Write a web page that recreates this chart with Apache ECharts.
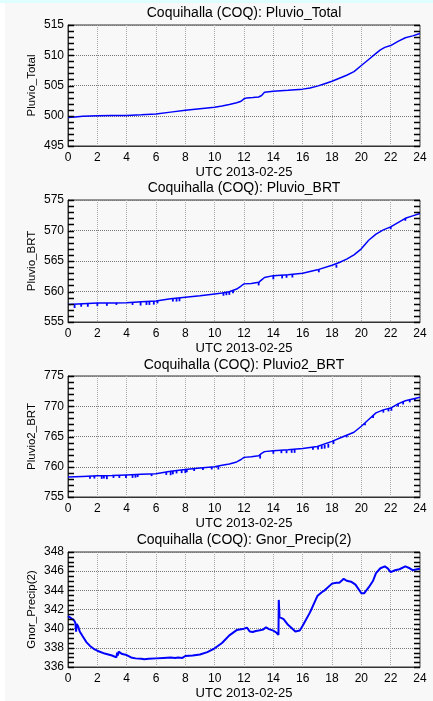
<!DOCTYPE html>
<html>
<head>
<meta charset="utf-8">
<script src="https://cdn.jsdelivr.net/npm/echarts@6/dist/echarts.min.js"></script>
<style>
html,body{margin:0;padding:0;background:#f8f8f8;}
#chart{width:433px;height:701px;}
</style>
</head>
<body>
<div id="chart"></div>
<script>
// ---- data (hours UTC, value) ----
const xTicks = [0, 24, 2];
const titles = ["Coquihalla (COQ): Pluvio_Total", "Coquihalla (COQ): Pluvio_BRT", "Coquihalla (COQ): Pluvio2_BRT", "Coquihalla (COQ): Gnor_Precip(2)"];
const yNames = ["Pluvio_Total", "Pluvio_BRT", "Pluvio2_BRT", "Gnor_Precip(2)"];
const xName = "UTC 2013-02-25";
// [min, max, major interval, minor interval]
const yRanges = [[495, 515, 5, 1], [555, 575, 5, 1], [755, 775, 5, 1], [336, 348, 2, 0.5]];

const pluvioTotal = [[0,499.7],[0.5,499.8],[1,499.9],[2,500.0],[3,500.05],[4,500.05],[5,500.15],[6,500.3],[7,500.6],[8,500.9],[9,501.15],[10,501.4],[10.5,501.6],[11,501.85],[11.5,502.15],[11.8,502.4],[12,502.8],[12.2,502.95],[12.6,503.0],[13,503.1],[13.2,503.35],[13.4,503.9],[14,504.05],[15,504.2],[16,504.4],[16.5,504.6],[17,504.9],[17.5,505.3],[18,505.7],[18.5,506.2],[19,506.7],[19.5,507.3],[20,508.3],[20.5,509.3],[21,510.3],[21.3,510.9],[21.6,511.3],[22,511.6],[22.5,512.3],[23,512.9],[23.5,513.2],[24,513.6]];

const pluvioBrt = [[0,557.85],[1,558.0],[2,558.1],[3,558.1],[4,558.15],[5,558.3],[6,558.45],[7,558.8],[8,559.05],[9,559.3],[10,559.6],[10.5,559.75],[11,559.95],[11.5,560.4],[11.8,560.9],[12,561.25],[12.5,561.3],[13,561.5],[13.2,561.9],[13.4,562.3],[14,562.6],[15,562.75],[16,563.0],[17,563.55],[18,564.3],[18.5,564.75],[19,565.3],[19.5,566.0],[20,567.0],[20.5,568.4],[21,569.4],[21.5,570.1],[22,570.6],[22.5,571.3],[23,572.0],[23.5,572.4],[24,572.8]];
// dips: [hour, level, low]
const pluvioBrtDips = [[0.45,557.85,557.3],[0.9,557.95,557.5],[1.35,558.0,557.5],[2.0,558.1,557.65],[2.65,558.1,557.65],[3.3,558.15,557.8],[4.4,558.2,557.8],[4.95,558.3,557.7],[5.35,558.35,557.8],[5.55,558.4,557.8],[5.85,558.45,557.85],[6.1,558.5,558.05],[7.15,558.85,558.35],[7.4,558.9,558.35],[7.6,558.95,558.4],[10.6,559.75,559.3],[10.8,559.85,559.4],[11.0,559.95,559.45],[11.25,560.1,559.7],[13.0,561.5,561.0],[14.0,562.6,562.0],[14.6,562.7,562.15],[14.9,562.75,562.25],[15.3,562.8,562.3],[17.1,563.6,563.15],[18.3,564.4,563.9],[22.0,570.6,570.2],[23.0,572.0,571.6]];

const pluvio2Brt = [[0,758.3],[1,758.4],[2,758.5],[3,758.55],[4,758.65],[5,758.75],[6,758.85],[7,759.25],[8,759.55],[9,759.8],[10,760.0],[10.5,760.25],[11,760.45],[11.5,760.8],[11.8,761.2],[12,761.55],[12.5,761.65],[13,761.8],[13.2,762.2],[13.4,762.5],[14,762.65],[15,762.8],[16,763.0],[17,763.35],[18,764.2],[18.5,764.7],[19,765.2],[19.5,765.7],[20,766.7],[20.5,767.8],[21,768.9],[21.5,769.4],[22,769.7],[22.5,770.4],[23,770.9],[23.5,771.2],[24,771.5]];
const pluvio2BrtDips = [[1.5,758.45,758.0],[1.8,758.5,758.05],[2.3,758.5,758.0],[2.45,758.5,758.05],[2.65,758.5,757.95],[3.1,758.55,758.15],[3.5,758.6,758.15],[3.95,758.65,758.15],[4.4,758.7,758.15],[4.6,758.7,758.2],[4.75,758.7,758.3],[5.7,758.8,758.45],[6.7,759.1,758.65],[7.0,759.25,758.6],[7.15,759.3,758.75],[7.4,759.35,758.9],[7.75,759.45,758.95],[8.0,759.55,758.95],[8.1,759.55,759.1],[8.6,759.7,759.3],[9.2,759.85,759.45],[9.8,759.95,759.55],[10.25,760.1,759.55],[13.1,761.9,761.35],[14.0,762.65,762.15],[14.55,762.7,762.25],[14.9,762.75,762.25],[15.25,762.8,762.3],[15.45,762.85,762.3],[16.7,763.25,762.8],[17.05,763.35,762.85],[17.3,763.5,762.95],[17.5,763.6,763.0],[17.75,763.8,763.15],[18.1,764.3,763.75],[19.0,765.2,764.85],[20.25,767.2,766.85],[20.8,768.5,768.05],[21.5,769.4,768.95],[21.85,769.6,769.15],[22.05,769.7,769.25],[22.5,770.4,769.95],[22.85,770.75,770.3],[23.3,771.1,770.65],[23.65,771.3,770.85]];

const gnorPrecip = [[0,341.3],[0.2,341.1],[0.4,340.9],[0.5,340.6],[0.55,339.7],[0.6,340.5],[0.7,340.2],[0.8,339.7],[1,339.2],[1.25,338.6],[1.5,338.2],[1.75,337.9],[2,337.7],[2.5,337.4],[3,337.2],[3.3,337.0],[3.35,337.5],[3.4,337.2],[3.45,337.6],[3.7,337.35],[4,337.25],[4.3,337.0],[4.6,336.9],[5,336.85],[5.2,336.8],[5.5,336.85],[6,336.9],[6.5,336.95],[7,337.0],[7.3,336.95],[7.5,337.0],[7.8,336.95],[8,337.15],[8.5,337.2],[9,337.3],[9.5,337.55],[10,337.95],[10.5,338.5],[11,339.3],[11.5,339.85],[12,340.0],[12.2,340.1],[12.4,339.7],[12.6,339.65],[12.8,339.75],[13,339.8],[13.3,339.9],[13.5,340.15],[13.7,339.95],[14,339.8],[14.2,339.6],[14.3,339.8],[14.35,339.35],[14.37,343.0],[14.42,341.2],[14.7,341.0],[15,340.4],[15.3,340.0],[15.5,339.7],[15.8,339.8],[16,340.3],[16.5,341.7],[17,343.4],[17.3,343.8],[17.5,344.0],[18,344.7],[18.3,344.8],[18.5,344.8],[18.8,345.2],[19,345.0],[19.3,344.9],[19.6,344.6],[20,343.7],[20.2,343.7],[20.5,344.3],[20.8,345.0],[21,345.8],[21.3,346.3],[21.6,346.5],[21.8,346.3],[22,345.9],[22.3,346.1],[22.6,346.2],[23,346.5],[23.3,346.3],[23.5,346.1],[23.8,346.2],[24,346.25]];

// ---- layout ----
const gridTops = [25, 200, 376, 552];
const gridHeights = [121, 122, 121, 121];
const titleYs = [13, 188, 365, 540];
const FONT = 'Liberation Sans';
const LINE = '#0000ff';
const TICK_LEN = 6;

const grids = [], xAxes = [], yAxes = [], series = [], graphics = [];
graphics.push({type:'rect', shape:{x:0,y:0,width:433,height:3}, style:{fill:'#e0ffff'}, silent:true});
graphics.push({type:'rect', shape:{x:0,y:3,width:5,height:698}, style:{fill:'#ffffff'}, silent:true});

for (let i = 0; i < 4; i++) {
  grids.push({left:68, width:352, top:gridTops[i], height:gridHeights[i], show:true, borderColor:'#333', borderWidth:1, backgroundColor:'transparent', containLabel:false});
  xAxes.push({type:'value', gridIndex:i, min:xTicks[0], max:xTicks[1], interval:xTicks[2],
    name:xName, nameLocation:'middle', nameGap:20, nameMoveOverlap:false,
    nameTextStyle:{fontFamily:FONT, fontSize:13, color:'#000'},
    axisLine:{show:true, onZero:false, lineStyle:{color:'#333', width:1}},
    axisTick:{show:false},
    axisLabel:{fontFamily:FONT, fontSize:12, color:'#000', margin:6},
    splitLine:{show:true, lineStyle:{type:'dotted', color:'#aaa', width:1}}
  });
  const r = yRanges[i];
  yAxes.push({type:'value', gridIndex:i, position:'left', offset:0, min:r[0], max:r[1], interval:r[2],
    name:yNames[i], nameLocation:'middle', nameGap:30, nameRotate:90, nameMoveOverlap:false,
    nameTextStyle:{fontFamily:FONT, fontSize:11.5, color:'#000'},
    axisLine:{show:true, onZero:false, lineStyle:{color:'#333', width:1}},
    axisTick:{show:false},
    axisLabel:{fontFamily:FONT, fontSize:12, color:'#000', margin:4},
    splitLine:{show:true, lineStyle:{type:'dotted', color:'#777', width:1}}
  });

  // inward frame ticks at each minor step, drawn through the axes' scales
  const tickVals = [];
  for (let k = 0; r[0] + k * r[3] <= r[1] + 1e-9; k++) tickVals.push([12, r[0] + k * r[3]]);
  series.push({type:'custom', xAxisIndex:i, yAxisIndex:i, data:tickVals, animation:false, z:6,
    encode:{x:0, y:1},
    renderItem:function(params, api){
      const v = api.value(1);
      const a = api.coord([xTicks[0], v]);
      const b = api.coord([xTicks[1], v]);
      const y = Math.round(a[1]) + 0.5;
      return {type:'group', children:[
        {type:'line', shape:{x1:a[0], y1:y, x2:a[0] + TICK_LEN, y2:y}, style:{stroke:'#000', lineWidth:1.5}},
        {type:'line', shape:{x1:b[0] - TICK_LEN, y1:y, x2:b[0], y2:y}, style:{stroke:'#000', lineWidth:1.5}}
      ]};
    }
  });
  graphics.push({type:'text', x:244, y:titleYs[i], style:{text:titles[i], font:'14px ' + FONT, fill:'#000', textAlign:'center', textVerticalAlign:'middle'}, silent:true});
}

const mainData = [pluvioTotal, pluvioBrt, pluvio2Brt, gnorPrecip];
const widths = [1.5, 1.5, 1.5, 2];
mainData.forEach((d, i) => {
  series.push({type:'line', xAxisIndex:i, yAxisIndex:i, data:d, showSymbol:false, symbol:'none',
    lineStyle:{color:LINE, width:widths[i]}, animation:false, z:3});
});
const dipData = [[1, pluvioBrtDips], [2, pluvio2BrtDips]];
dipData.forEach(([i, d]) => {
  series.push({type:'custom', xAxisIndex:i, yAxisIndex:i, data:d, animation:false, z:3,
    encode:{x:0, y:[1,2]},
    renderItem:function(params, api){
      const a = api.coord([api.value(0), api.value(1)]);
      const b = api.coord([api.value(0), api.value(2)]);
      return {type:'line', shape:{x1:a[0], y1:a[1], x2:b[0], y2:b[1]}, style:{stroke:LINE, lineWidth:1.8}};
    }
  });
});

const chart = echarts.init(document.getElementById('chart'), null, {renderer:'canvas'});
chart.setOption({
  backgroundColor:'#f8f8f8',
  animation:false,
  grid:grids, xAxis:xAxes, yAxis:yAxes, series:series, graphic:graphics
});
</script>
</body>
</html>
